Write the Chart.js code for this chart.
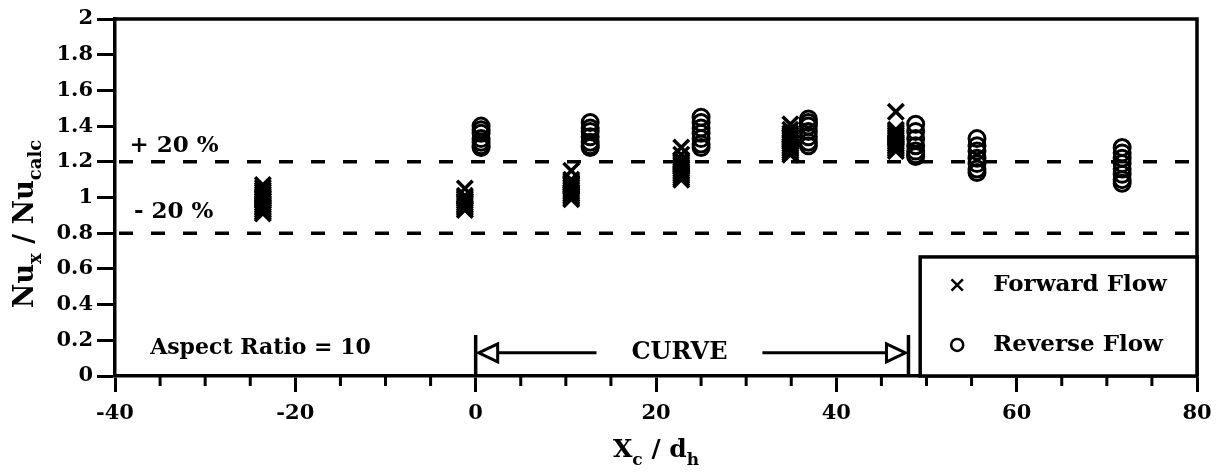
<!DOCTYPE html>
<html lang="en">
<head>
<meta charset="UTF-8">
<title>Nu ratio along the duct</title>
<script src="https://cdn.jsdelivr.net/npm/chart.js"></script>
<style>
  html, body { margin: 0; padding: 0; background: #fff; }
  #wrap { width: 1221px; height: 474px; }
</style>
</head>
<body>
<div id="wrap"><canvas id="nuChart"></canvas></div>
<script>
// stations (Xc/dh) and measured Nu_x / Nu_calc at each one
const forwardStations = [-23.6, -1.2, 10.6, 22.8, 34.9, 46.6];
const forwardRatios = [
  [1.07, 1.055, 1.04, 1.03, 1.02, 1.01, 1.00, 0.99, 0.98, 0.97, 0.96, 0.95, 0.94, 0.93, 0.92, 0.91],
  [1.05, 1.01, 1.00, 0.99, 0.98, 0.97, 0.96, 0.95, 0.94, 0.93],
  [1.15, 1.10, 1.09, 1.08, 1.07, 1.06, 1.05, 1.04, 1.03, 1.02, 1.01, 1.00, 0.99],
  [1.28, 1.24, 1.21, 1.20, 1.19, 1.18, 1.17, 1.16, 1.15, 1.14, 1.13, 1.12, 1.11, 1.10],
  [1.41, 1.38, 1.36, 1.35, 1.34, 1.33, 1.32, 1.31, 1.30, 1.29, 1.28, 1.27, 1.26, 1.25, 1.24],
  [1.48, 1.38, 1.37, 1.36, 1.35, 1.34, 1.33, 1.32, 1.31, 1.30, 1.29, 1.28, 1.27, 1.26]
];
const reverseStations = [0.6, 12.7, 25.0, 36.9, 48.8, 55.6, 71.7];
const reverseRatios = [
  [1.40, 1.38, 1.36, 1.33, 1.31, 1.29, 1.28],
  [1.42, 1.39, 1.37, 1.34, 1.31, 1.29, 1.28],
  [1.45, 1.42, 1.39, 1.36, 1.33, 1.30, 1.28],
  [1.44, 1.42, 1.40, 1.37, 1.34, 1.31, 1.29],
  [1.41, 1.37, 1.33, 1.29, 1.26, 1.24, 1.23],
  [1.33, 1.29, 1.26, 1.22, 1.19, 1.16, 1.14],
  [1.28, 1.25, 1.22, 1.19, 1.16, 1.13, 1.10, 1.08]
];
const seriesNames = ['Forward Flow', 'Reverse Flow'];
const bandLevels = [1.2, 0.8];
const bandLabels = ['+ 20 %', '- 20 %'];
const curveSpan = [0, 48.0];
const curveLabel = 'CURVE';
const ratioNote = 'Aspect Ratio = 10';

const SERIF = '"DejaVu Serif", serif';

function toPoints(stations, ratios) {
  const pts = [];
  stations.forEach((s, i) => ratios[i].forEach(r => pts.push({ x: s, y: r })));
  return pts;
}

// text with subscripts: parts = [[text, isSub], ...]
function drawSubText(ctx, parts, x, y, size, subSize, align) {
  let total = 0;
  parts.forEach(([t, sub]) => {
    ctx.font = 'bold ' + (sub ? subSize : size) + 'px ' + SERIF;
    total += ctx.measureText(t).width;
  });
  let cx = align === 'center' ? x - total / 2 : x;
  ctx.textAlign = 'left';
  ctx.textBaseline = 'alphabetic';
  parts.forEach(([t, sub]) => {
    ctx.font = 'bold ' + (sub ? subSize : size) + 'px ' + SERIF;
    ctx.fillText(t, cx, sub ? y + size * 0.3 : y);
    cx += ctx.measureText(t).width;
  });
}

const decor = {
  id: 'decor',
  beforeDatasetsDraw(chart) {
    const { ctx, chartArea: a, scales: { x, y } } = chart;
    ctx.save();
    ctx.strokeStyle = '#000';
    ctx.lineWidth = 3.5;
    // top and right frame
    ctx.beginPath();
    ctx.moveTo(a.left - 1, a.top);
    ctx.lineTo(a.right, a.top);
    ctx.lineTo(a.right, a.bottom);
    ctx.stroke();
    // minor x ticks
    ctx.lineWidth = 3;
    ctx.beginPath();
    for (let v = -35; v < 80; v += 5) {
      if (v % 20 === 0) continue;
      const px = x.getPixelForValue(v);
      ctx.moveTo(px, a.bottom);
      ctx.lineTo(px, a.bottom + 10);
    }
    ctx.stroke();
    // +/-20 % bands
    ctx.setLineDash([14, 18]);
    ctx.lineWidth = 3.5;
    bandLevels.forEach(b => {
      const py = y.getPixelForValue(b);
      ctx.beginPath();
      ctx.moveTo(a.left + 4, py);
      ctx.lineTo(a.right, py);
      ctx.stroke();
    });
    ctx.restore();
  },
  afterDatasetsDraw(chart) {
    const { ctx, chartArea: a, scales: { x, y } } = chart;
    ctx.save();
    ctx.fillStyle = '#000';
    ctx.strokeStyle = '#000';

    // band labels
    ctx.font = 'bold 23px ' + SERIF;
    ctx.textAlign = 'left';
    ctx.textBaseline = 'middle';
    ctx.fillText(bandLabels[0], x.getPixelForValue(-38.4), y.getPixelForValue(bandLevels[0]) - 16);
    ctx.fillText(bandLabels[1], x.getPixelForValue(-37.9), y.getPixelForValue(bandLevels[1]) - 21);

    // aspect ratio note
    ctx.font = 'bold 22px ' + SERIF;
    ctx.fillText(ratioNote, x.getPixelForValue(-36.1), y.getPixelForValue(0.155));

    // curve extent marker
    const x0 = x.getPixelForValue(curveSpan[0]);
    const x1 = x.getPixelForValue(curveSpan[1]);
    const yTop = y.getPixelForValue(0.23);
    const yArr = y.getPixelForValue(0.13);
    ctx.lineWidth = 3.5;
    ctx.beginPath();
    ctx.moveTo(x0, yTop); ctx.lineTo(x0, a.bottom);
    ctx.moveTo(x1, yTop); ctx.lineTo(x1, a.bottom);
    ctx.stroke();
    // hollow arrow heads
    ctx.lineWidth = 3;
    ctx.beginPath();
    ctx.moveTo(x0 + 3, yArr); ctx.lineTo(x0 + 22, yArr - 9); ctx.lineTo(x0 + 22, yArr + 9); ctx.closePath();
    ctx.moveTo(x1 - 3, yArr); ctx.lineTo(x1 - 22, yArr - 9); ctx.lineTo(x1 - 22, yArr + 9); ctx.closePath();
    ctx.stroke();
    ctx.beginPath();
    ctx.moveTo(x0 + 22, yArr); ctx.lineTo(x.getPixelForValue(13.4), yArr);
    ctx.moveTo(x.getPixelForValue(31.8), yArr); ctx.lineTo(x1 - 22, yArr);
    ctx.stroke();
    ctx.font = 'bold 24px ' + SERIF;
    ctx.textAlign = 'center';
    ctx.fillText(curveLabel, x.getPixelForValue(22.6), yArr);

    // legend box
    const lx = x.getPixelForValue(49.3);
    const ly = y.getPixelForValue(0.667);
    ctx.fillStyle = '#fff';
    ctx.fillRect(lx, ly, a.right - lx, a.bottom - ly);
    ctx.lineWidth = 3.5;
    ctx.strokeRect(lx, ly, a.right - lx, a.bottom - ly);
    const rows = [ly + 28, ly + 88];
    chart.data.datasets.forEach((ds, i) => {
      ctx.fillStyle = 'rgba(0,0,0,0)';
      ctx.strokeStyle = '#000';
      ctx.lineWidth = 2.5;
      Chart.helpers.drawPoint(ctx, {
        pointStyle: ds.pointStyle,
        radius: ds.pointStyle === 'circle' ? 6 : 8,
        borderWidth: 2.5
      }, lx + 37, rows[i]);
      ctx.fillStyle = '#000';
      ctx.font = 'bold 23px ' + SERIF;
      ctx.textAlign = 'left';
      ctx.textBaseline = 'middle';
      ctx.fillText(ds.label, lx + 73, rows[i]);
    });

    // axis titles
    drawSubText(ctx, [['X', false], ['c', true], [' / d', false], ['h', true]],
      (a.left + a.right) / 2, 457, 25, 17, 'center');
    ctx.save();
    ctx.translate(33, 224);
    ctx.rotate(-Math.PI / 2);
    drawSubText(ctx, [['Nu', false], ['x', true], [' / Nu', false], ['calc', true]],
      0, 0, 27, 18, 'center');
    ctx.restore();

    ctx.restore();
  }
};

new Chart(document.getElementById('nuChart'), {
  type: 'scatter',
  data: {
    datasets: [
      {
        label: seriesNames[0],
        data: toPoints(forwardStations, forwardRatios),
        pointStyle: 'crossRot',
        pointRadius: 11,
        borderWidth: 3.5,
        borderColor: '#000',
        backgroundColor: 'rgba(0,0,0,0)'
      },
      {
        label: seriesNames[1],
        data: toPoints(reverseStations, reverseRatios),
        pointStyle: 'circle',
        pointRadius: 8,
        borderWidth: 3,
        borderColor: '#000',
        backgroundColor: 'rgba(0,0,0,0)'
      }
    ]
  },
  options: {
    responsive: true,
    maintainAspectRatio: false,
    animation: false,
    layout: { padding: { top: 19, right: 24, left: 0, bottom: 0 } },
    plugins: { legend: { display: false }, tooltip: { enabled: false } },
    scales: {
      x: {
        type: 'linear',
        min: -40,
        max: 80,
        afterFit: s => { s.height = 98; },
        border: { color: '#000', width: 3.5 },
        grid: {
          drawOnChartArea: false,
          tickLength: 16,
          tickWidth: 3,
          tickColor: c => (c.tick && c.tick.value % 20 === 0 ? '#000' : 'rgba(0,0,0,0)')
        },
        ticks: {
          stepSize: 5,
          autoSkip: false,
          maxRotation: 0,
          padding: 9,
          color: '#000',
          font: { family: SERIF, size: 21, weight: 'bold' },
          callback: v => (v % 20 === 0 ? String(v) : '')
        }
      },
      y: {
        min: 0,
        max: 2,
        afterFit: s => { s.width = 115; },
        border: { color: '#000', width: 3.5 },
        grid: { drawOnChartArea: false, tickLength: 18, tickWidth: 3, tickColor: '#000' },
        ticks: {
          stepSize: 0.2,
          padding: 4,
          color: '#000',
          font: { family: SERIF, size: 21, weight: 'bold' },
          callback: v => String(Math.round(v * 10) / 10)
        }
      }
    }
  },
  plugins: [decor]
});
</script>
</body>
</html>
